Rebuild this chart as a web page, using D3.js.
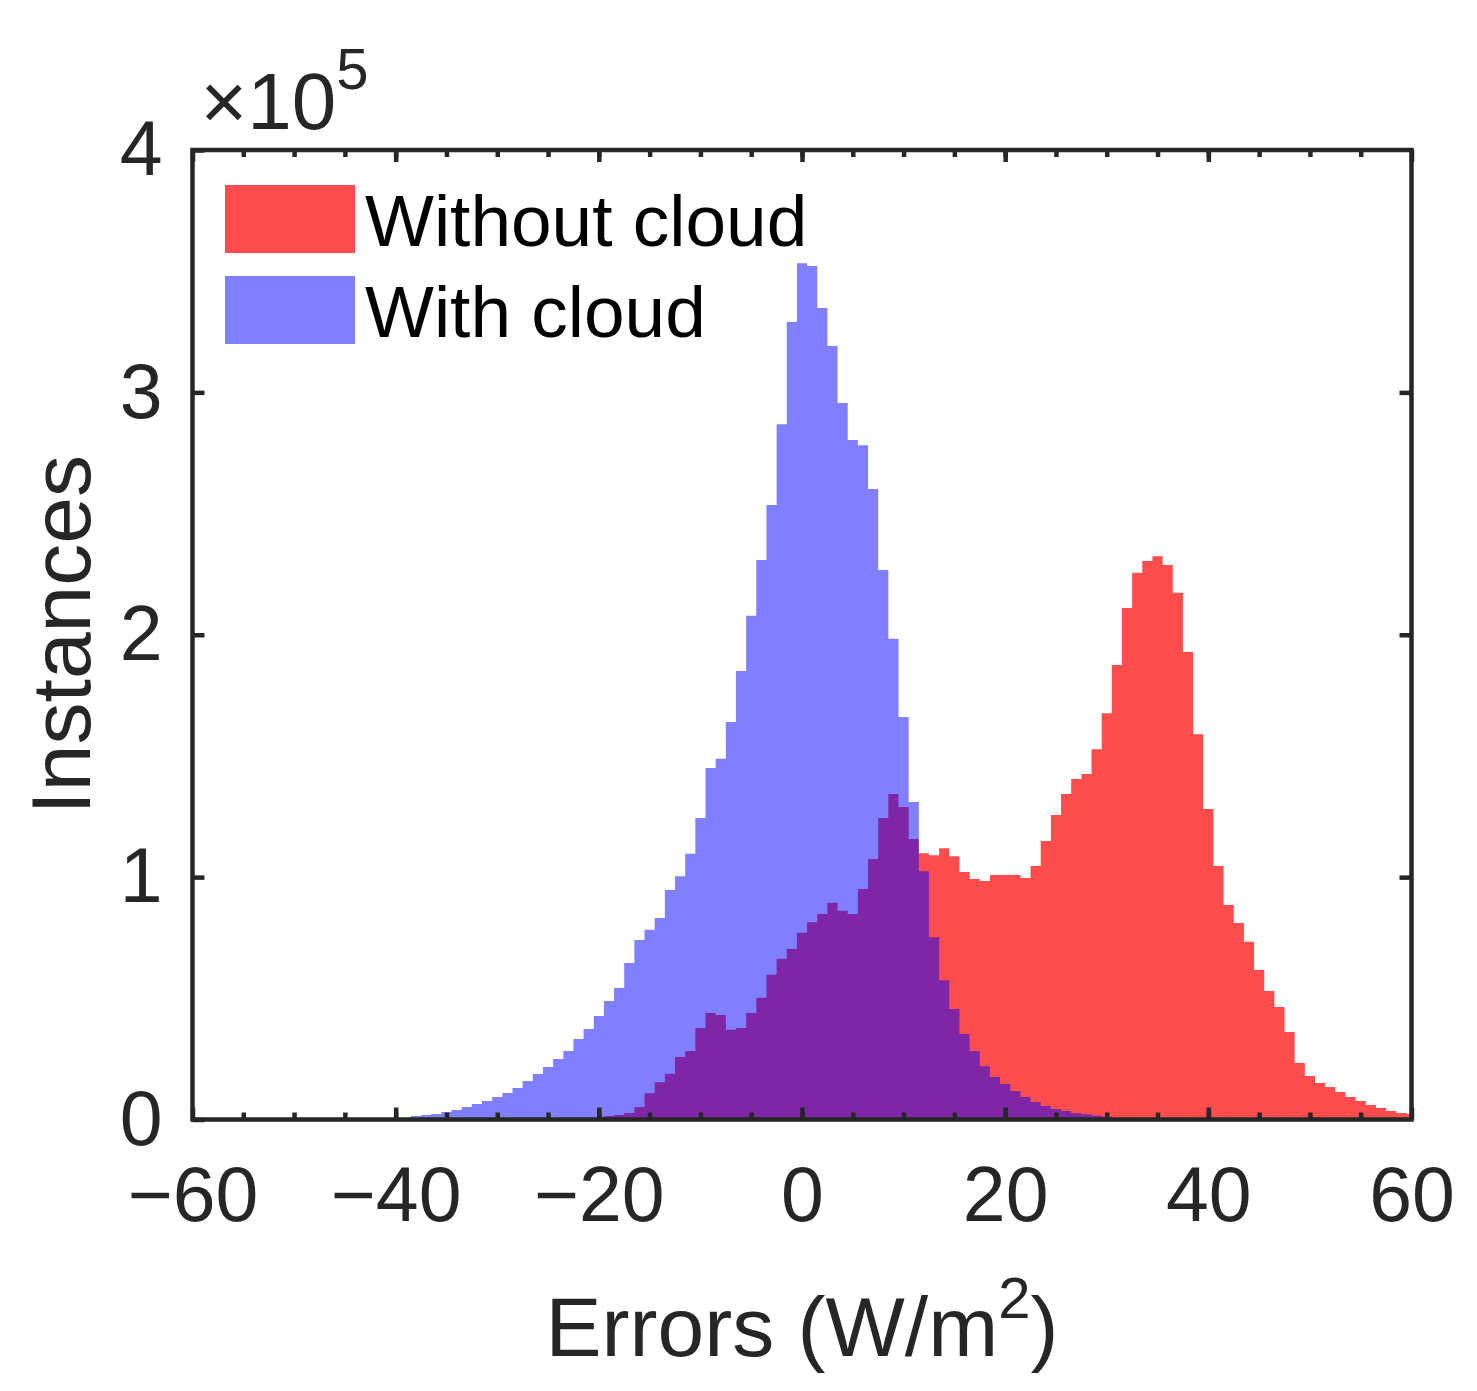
<!DOCTYPE html>
<html>
<head>
<meta charset="utf-8">
<script src="https://cdn.jsdelivr.net/npm/d3@7"></script>
<style>
  body { margin: 0; background: #fff; }
  svg { display: block; font-family: "Liberation Sans", Arial, sans-serif; }
</style>
</head>
<body>
<svg class="chart"></svg>
<script>
// histogram bins are 1 W/m2 wide, centred on integers
var withCloudStart = -40;
var withCloud = [300, 700, 1400, 1900, 2300, 3100, 3900, 5200, 6400, 7600,
  9300, 10900, 13000, 15900, 18800, 21700, 25000, 28300, 33200, 37300,
  42700, 48900, 54300, 64600, 74100, 78300, 83100, 94700, 100400, 109600,
  124400, 145000, 148800, 164000, 185000, 207800, 230800, 253500, 286900, 329000,
  353300, 352100, 334800, 319100, 295600, 280300, 278200, 260100, 226700, 198300,
  166100, 131000, 102400, 75200, 57500, 45600, 35300, 28300, 22000, 17500,
  14600, 11800, 9300, 7200, 5600, 4300, 3500, 2700, 2200, 1700,
  1100, 600, 300];

var withoutCloudStart = -21;
var withoutCloud = [400, 800, 1400, 1900, 2700, 5200, 10800, 15400, 18900, 25800,
  28300, 37800, 43900, 43100, 37000, 37800, 43900, 50200, 59700, 66300,
  70300, 77000, 81400, 84800, 89400, 86100, 84800, 95100, 107500, 124400,
  134300, 128900, 115700, 109900, 109000, 111900, 108600, 102100, 99200, 98400,
  100900, 100900, 100900, 99600, 104600, 114900, 125600, 134300, 140500, 142500,
  152800, 167600, 187500, 211000, 225600, 230400, 232400, 228800, 217300, 192900,
  158900, 128100, 104600, 88500, 81100, 73300, 61700, 53000, 46400, 36100,
  23300, 17900, 15100, 13400, 11300, 9300, 7600, 6000, 4700, 3500,
  2700, 2300];

var xTicks = [-60, -40, -20, 0, 20, 40, 60];
var xMinorTicks = d3.range(-55, 60, 5);
var yTicks = [0, 1e5, 2e5, 3e5, 4e5];
var legendLabels = ["Without cloud", "With cloud"];

const W = 1477, H = 1391;
const margin = {top: 150, bottom: 271.5, left: 192.5, right: 65.5};
var width = W - margin.left - margin.right;
var height = H - margin.top - margin.bottom;
const axisColor = '#262626';

const svg = d3.select('.chart').attr('width', W).attr('height', H);

var x = d3.scaleLinear().domain([-60, 60]).range([0, width]);
var y = d3.scaleLinear().domain([0, 4e5]).range([height, 0]);

const chart = svg.append('g')
  .attr('transform', 'translate(' + margin.left + ',' + margin.top + ')');

chart.append('clipPath').attr('id', 'plotclip')
  .append('rect').attr('width', width).attr('height', height);

// left edge of each bin, plus a closing point at the right edge of the last one
function toEdges(counts, start) {
  var pts = counts.map((v, i) => ({e: start + i - 0.5, v: v}));
  pts.push({e: start + counts.length - 0.5, v: counts[counts.length - 1]});
  return pts;
}

var series = [
  {pts: toEdges(withoutCloud, withoutCloudStart), color: 'rgb(255,0,0)', alpha: 0.7},
  {pts: toEdges(withCloud, withCloudStart), color: 'rgb(0,0,255)', alpha: 0.5}
];

var area = d3.area()
  .curve(d3.curveStepAfter)
  .x((d) => x(d.e))
  .y0(y(0))
  .y1((d) => y(d.v));

const plot = chart.append('g').attr('clip-path', 'url(#plotclip)');
series.forEach((s) => {
  plot.append('path')
    .datum(s.pts)
    .attr('fill', s.color)
    .attr('fill-opacity', s.alpha)
    .attr('d', area);
});

/** axes **/
function styleAxis(g) {
  g.select('.domain').remove();
  g.selectAll('.tick line').attr('stroke', axisColor).attr('stroke-width', 4.5);
  g.selectAll('.tick text').attr('fill', axisColor)
    .attr('font-family', '"Liberation Sans", Arial, sans-serif')
    .attr('font-size', 77);
}

chart.append('g')
  .attr('transform', 'translate(0,' + height + ')')
  .call(d3.axisBottom(x).tickValues(xTicks).tickSizeInner(-12).tickSizeOuter(0).tickPadding(47))
  .call(styleAxis);
chart.append('g')
  .attr('transform', 'translate(0,' + height + ')')
  .call(d3.axisBottom(x).tickValues(xMinorTicks).tickSizeInner(-7).tickSizeOuter(0).tickFormat(''))
  .call(styleAxis);
chart.append('g')
  .call(d3.axisTop(x).tickValues(xTicks).tickSizeInner(-12).tickSizeOuter(0).tickFormat(''))
  .call(styleAxis);
chart.append('g')
  .call(d3.axisTop(x).tickValues(xMinorTicks).tickSizeInner(-7).tickSizeOuter(0).tickFormat(''))
  .call(styleAxis);

chart.append('g')
  .call(d3.axisLeft(y).tickValues(yTicks).tickSizeInner(-12).tickSizeOuter(0).tickPadding(30)
    .tickFormat((d) => d / 1e5))
  .call(styleAxis);
chart.append('g')
  .attr('transform', 'translate(' + width + ',0)')
  .call(d3.axisRight(y).tickValues(yTicks.slice(1, 4)).tickSizeInner(-12).tickSizeOuter(0).tickFormat(''))
  .call(styleAxis);

chart.append('rect')
  .attr('width', width).attr('height', height)
  .attr('fill', 'none').attr('stroke', axisColor).attr('stroke-width', 4.5);

// exponent label
var expo = chart.append('text')
  .attr('x', 8).attr('y', -21)
  .attr('fill', axisColor).attr('font-size', 80);
expo.append('tspan').attr('font-weight', 300).text('\u00d7');
expo.append('tspan').text('10');
expo.append('tspan').attr('font-size', 58).attr('dy', -40).text('5');

// axis labels
var xl = chart.append('text')
  .attr('x', width / 2).attr('y', height + 236)
  .attr('text-anchor', 'middle')
  .attr('fill', axisColor).attr('font-size', 84);
xl.append('tspan').text('Errors (W/m');
xl.append('tspan').attr('font-size', 58).attr('dy', -38).text('2');
xl.append('tspan').attr('dy', 38).text(')');

chart.append('text')
  .attr('transform', 'translate(' + (90 - margin.left) + ',' + (height / 2) + ') rotate(-90)')
  .attr('text-anchor', 'middle')
  .attr('fill', axisColor).attr('font-size', 84)
  .text('Instances');

/** legend **/
var legendColors = ['rgb(255,77,77)', 'rgb(128,128,255)'];
const legend = chart.append('g').attr('transform', 'translate(' + (225 - margin.left) + ',' + (185 - margin.top) + ')');
legend.selectAll('rect')
  .data(legendLabels)
  .enter()
  .append('rect')
    .attr('x', 0)
    .attr('y', (d, i) => i * 91)
    .attr('width', 130)
    .attr('height', 68)
    .attr('fill', (d, i) => legendColors[i]);
legend.selectAll('text')
  .data(legendLabels)
  .enter()
  .append('text')
    .attr('x', 140)
    .attr('y', (d, i) => 61 + i * 91)
    .attr('font-size', 73)
    .attr('fill', '#000')
    .text((d) => d);
</script>
</body>
</html>
